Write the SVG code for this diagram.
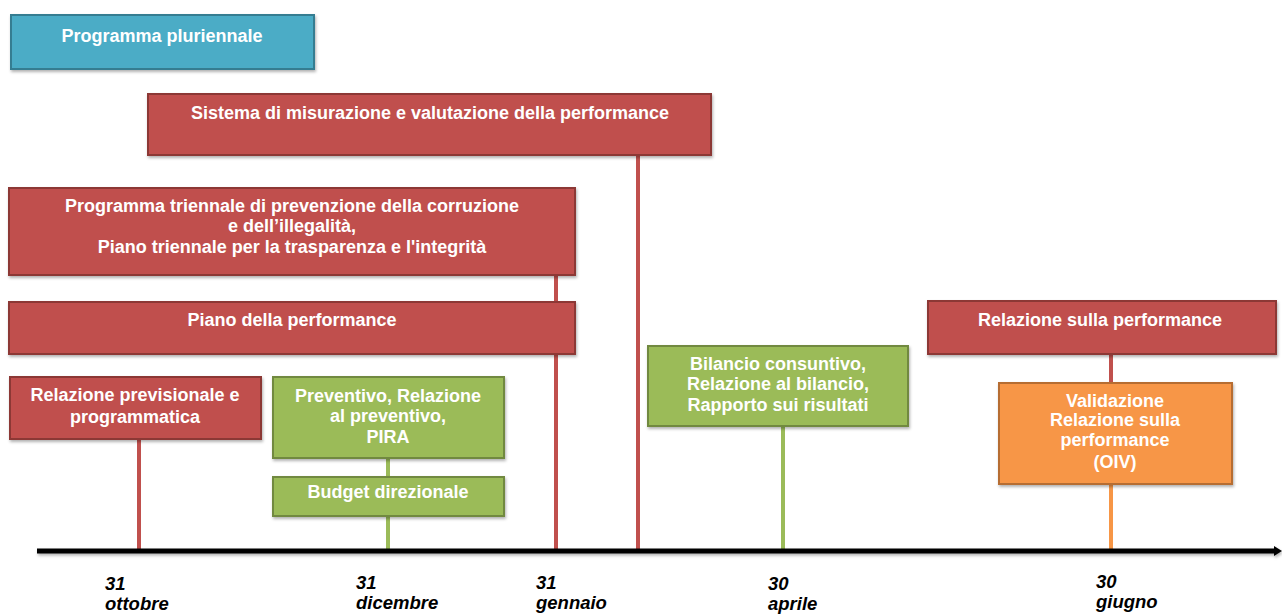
<svg xmlns="http://www.w3.org/2000/svg" width="1282" height="615" viewBox="0 0 1282 615">
<style>
.t{font-family:"Liberation Sans",Arial,sans-serif;font-weight:bold;font-size:18px;fill:#fff;text-anchor:middle}
.d{font-family:"Liberation Sans",Arial,sans-serif;font-weight:bold;font-style:italic;font-size:18.5px;fill:#000}
.red{fill:#C0504D;stroke:#8C3836;stroke-width:2}
.grn{fill:#9BBB59;stroke:#71893F;stroke-width:2}
.org{fill:#F79646;stroke:#B66D31;stroke-width:2}
.teal{fill:#4BACC6;stroke:#357D91;stroke-width:2}
.lr{stroke:#C0504D;stroke-width:4}
.lg{stroke:#9BBB59;stroke-width:4}
.lo{stroke:#F79646;stroke-width:4}
</style>
<defs>
<filter id="sh" x="-5%" y="-10%" width="110%" height="130%">
<feDropShadow dx="1" dy="2" stdDeviation="1.5" flood-color="#000" flood-opacity="0.3"/>
</filter>
<filter id="shl" filterUnits="userSpaceOnUse" x="0" y="530" width="1282" height="40">
<feDropShadow dx="1" dy="2" stdDeviation="1.5" flood-color="#000" flood-opacity="0.3"/>
</filter>
<marker id="ah" markerWidth="8" markerHeight="10" refX="0" refY="5" orient="auto" markerUnits="userSpaceOnUse">
<path d="M0,0 L8,5 L0,10 Z" fill="#000"/>
</marker>
</defs>
<rect width="1282" height="615" fill="#fff"/>
<g id="connectors">
<line class="lr" x1="139" y1="439" x2="139" y2="549"/>
<line class="lg" x1="388" y1="458" x2="388" y2="476"/>
<line class="lg" x1="388" y1="516" x2="388" y2="549"/>
<line class="lr" x1="556" y1="275" x2="556" y2="301"/>
<line class="lr" x1="556" y1="354" x2="556" y2="549"/>
<line class="lr" x1="638" y1="156" x2="638" y2="549"/>
<line class="lg" x1="783" y1="426" x2="783" y2="549"/>
<line class="lr" x1="1111" y1="354" x2="1111" y2="382"/>
<line class="lo" x1="1111" y1="484" x2="1111" y2="549"/>
<path d="M37,551 L1274,551" stroke="#000" stroke-width="5" fill="none" filter="url(#shl)" marker-end="url(#ah)"/>
</g>
<g id="n-pluriennale"><rect class="teal" x="11" y="15" width="303" height="54" filter="url(#sh)"/><text class="t" x="162" y="42">Programma pluriennale</text></g>
<g id="n-sistema"><rect class="red" x="148" y="94" width="563" height="61" filter="url(#sh)"/><text class="t" x="430" y="119">Sistema di misurazione e valutazione della performance</text></g>
<g id="n-triennale"><rect class="red" x="9" y="188" width="566" height="87" filter="url(#sh)"/><text class="t" x="292" y="212">Programma triennale di prevenzione della corruzione</text><text class="t" x="292" y="232">e dell’illegalità,</text><text class="t" x="292" y="253">Piano triennale per la trasparenza e l'integrità</text></g>
<g id="n-piano"><rect class="red" x="9" y="302" width="566" height="52" filter="url(#sh)"/><text class="t" x="292" y="326">Piano della performance</text></g>
<g id="n-previsionale"><rect class="red" x="10" y="377" width="251" height="62" filter="url(#sh)"/><text class="t" x="135" y="401">Relazione previsionale e</text><text class="t" x="135" y="423">programmatica</text></g>
<g id="n-preventivo"><rect class="grn" x="273" y="377" width="231" height="81" filter="url(#sh)"/><text class="t" x="388" y="402">Preventivo, Relazione</text><text class="t" x="388" y="422">al preventivo,</text><text class="t" x="388" y="443">PIRA</text></g>
<g id="n-budget"><rect class="grn" x="273" y="477" width="231" height="39" filter="url(#sh)"/><text class="t" x="388" y="498">Budget direzionale</text></g>
<g id="n-bilancio"><rect class="grn" x="648" y="346" width="260" height="80" filter="url(#sh)"/><text class="t" x="778" y="370">Bilancio consuntivo,</text><text class="t" x="778" y="390">Relazione al bilancio,</text><text class="t" x="778" y="411">Rapporto sui risultati</text></g>
<g id="n-relperf"><rect class="red" x="928" y="301" width="348" height="53" filter="url(#sh)"/><text class="t" x="1100" y="326">Relazione sulla performance</text></g>
<g id="n-validazione"><rect class="org" x="999" y="383" width="233" height="101" filter="url(#sh)"/><text class="t" x="1115" y="407">Validazione</text><text class="t" x="1115" y="426">Relazione sulla</text><text class="t" x="1115" y="446">performance</text><text class="t" x="1115" y="468">(OIV)</text></g>
<g id="dates">
<text class="d" x="105" y="590">31</text><text class="d" x="105" y="610">ottobre</text>
<text class="d" x="356" y="589">31</text><text class="d" x="356" y="609">dicembre</text>
<text class="d" x="536" y="589">31</text><text class="d" x="536" y="609">gennaio</text>
<text class="d" x="768" y="590">30</text><text class="d" x="768" y="610">aprile</text>
<text class="d" x="1096" y="588">30</text><text class="d" x="1096" y="608">giugno</text>
</g>
</svg>
